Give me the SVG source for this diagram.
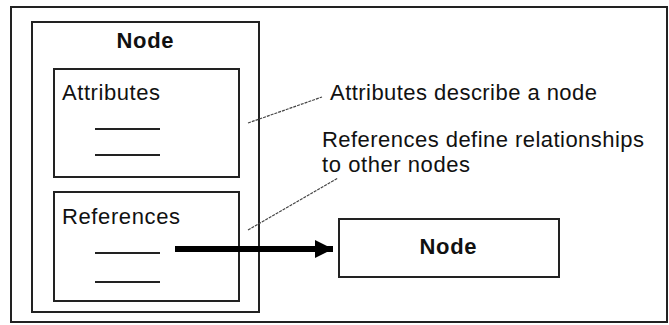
<svg xmlns="http://www.w3.org/2000/svg" width="669" height="325" viewBox="0 0 669 325">
  <style>
    .frame { fill: none; stroke: #222; stroke-width: 2; }
    .box { fill: #fff; stroke: #222; stroke-width: 2; }
    .rule { stroke: #222; stroke-width: 2; }
    .lbl { font-family: "Liberation Sans", Arial, sans-serif; font-size: 22px; fill: #111; }
    .title { font-family: "Liberation Sans", Arial, sans-serif; font-size: 22px; font-weight: bold; fill: #111; }
    .leader { fill: none; stroke: #444; stroke-width: 1.2; stroke-dasharray: 3 1; }
  </style>
  <defs>
    <marker id="head" markerWidth="18" markerHeight="18" refX="18" refY="9" orient="auto" markerUnits="userSpaceOnUse">
      <path d="M0,0 L18,9 L0,18 Z" fill="#000"/>
    </marker>
  </defs>

  <rect width="669" height="325" fill="#fff"/>
  <!-- outer border -->
  <rect class="frame" x="11" y="7" width="656" height="315"/>

  <!-- containing node with its attribute and reference compartments -->
  <g id="node-main">
    <rect class="box" x="32" y="22" width="227" height="290"/>
    <text class="title" x="145" y="48" text-anchor="middle" textLength="57">Node</text>
  </g>
  <g id="attributes">
    <rect class="box" x="54" y="69" width="185" height="108"/>
    <text class="lbl" x="62" y="100" textLength="98">Attributes</text>
    <line class="rule" x1="95" y1="129" x2="160" y2="129"/>
    <line class="rule" x1="95" y1="155" x2="160" y2="155"/>
  </g>
  <g id="references">
    <rect class="box" x="54" y="192" width="185" height="109"/>
    <text class="lbl" x="62" y="224" textLength="118">References</text>
    <line class="rule" x1="95" y1="253" x2="160" y2="253"/>
    <line class="rule" x1="95" y1="282" x2="160" y2="282"/>
  </g>

  <!-- referenced node -->
  <g id="node-target">
    <rect class="box" x="339" y="219" width="220" height="58"/>
    <text class="title" x="448" y="254" text-anchor="middle" textLength="57">Node</text>
  </g>

  <!-- explanatory notes -->
  <g id="notes">
    <text class="lbl" x="330" y="100" textLength="267">Attributes describe a node</text>
    <text class="lbl" x="322" y="147" textLength="322">References define relationships</text>
    <text class="lbl" x="322" y="172" textLength="148">to other nodes</text>
  </g>

  <g id="connectors">
    <line class="leader" x1="248" y1="123" x2="322" y2="97"/>
    <line class="leader" x1="248" y1="230" x2="338" y2="178"/>
    <line x1="175" y1="249" x2="333" y2="249" stroke="#000" stroke-width="6" marker-end="url(#head)"/>
  </g>
</svg>
